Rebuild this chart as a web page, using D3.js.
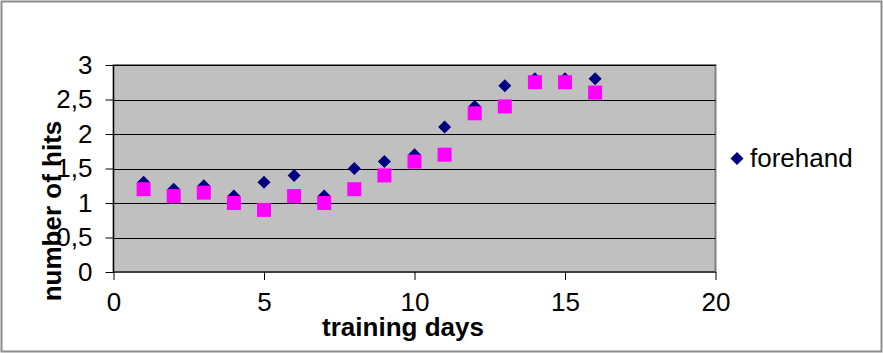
<!DOCTYPE html>
<html>
<head>
<meta charset="utf-8">
<script src="https://cdn.jsdelivr.net/npm/d3@7"></script>
<style>
  html, body { margin: 0; padding: 0; background: #fff; }
  svg { display: block; }
  text { font-family: "Liberation Sans", Arial, sans-serif; fill: #000; }
</style>
</head>
<body>
<svg id="chart" width="883" height="353"></svg>
<script>
// ---- data ----
const days = [1, 2, 3, 4, 5, 6, 7, 8, 9, 10, 11, 12, 13, 14, 15, 16];
const forehand = [1.3, 1.2, 1.25, 1.1, 1.3, 1.4, 1.1, 1.5, 1.6, 1.7, 2.1, 2.4, 2.7, 2.8, 2.8, 2.8];
const backhand = [1.2, 1.1, 1.15, 1.0, 0.9, 1.1, 1.0, 1.2, 1.4, 1.6, 1.7, 2.3, 2.4, 2.75, 2.75, 2.6];
const xTicks = [0, 5, 10, 15, 20];
const yTicks = [0, 0.5, 1, 1.5, 2, 2.5, 3];
const yTickLabels = ["0", "0,5", "1", "1,5", "2", "2,5", "3"];
const seriesNames = ["forehand"];

// ---- layout ----
const svg = d3.select("#chart");
const W = 883, H = 353;
const plot = { left: 113.5, right: 715.5, top: 65, bottom: 272 };

svg.append("rect").attr("x", 1.5).attr("y", 1.5).attr("width", W - 3).attr("height", H - 3)
  .attr("fill", "#fff").attr("stroke", "#8c8c8c").attr("stroke-width", 2);

const x = d3.scaleLinear().domain([0, 20]).range([plot.left, plot.right]);
const y = d3.scaleLinear().domain([0, 3]).range([plot.bottom, plot.top]);

// plot background
svg.append("rect").attr("x", plot.left).attr("y", plot.top)
  .attr("width", plot.right - plot.left).attr("height", plot.bottom - plot.top)
  .attr("fill", "#c0c0c0").attr("stroke", "#808080").attr("stroke-width", 2);

// gridlines
svg.append("g").selectAll("line").data(yTicks.filter(v => v > 0)).join("line")
  .attr("x1", plot.left).attr("x2", plot.right)
  .attr("y1", d => Math.round(y(d)) + 0.5).attr("y2", d => Math.round(y(d)) + 0.5)
  .attr("stroke", "#000").attr("stroke-width", 1);

// axes
const yAxis = d3.axisLeft(y).tickValues(yTicks).tickSize(8).tickPadding(13)
  .tickFormat((d, i) => yTickLabels[i]);
const gy = svg.append("g").attr("transform", `translate(${plot.left},0)`).call(yAxis);
const xAxis = d3.axisBottom(x).tickValues(xTicks).tickSize(8).tickPadding(13);
const gx = svg.append("g").attr("transform", `translate(0,${plot.bottom})`).call(xAxis);
[gx, gy].forEach(g => {
  g.select(".domain").remove();
  g.selectAll(".tick line").attr("stroke", "#000").attr("stroke-width", 1);
  g.selectAll(".tick text").attr("font-size", 26).attr("font-family", "Liberation Sans, Arial, sans-serif").attr("fill", "#000");
});
svg.append("line").attr("x1", plot.left).attr("x2", plot.left).attr("y1", plot.top).attr("y2", plot.bottom)
  .attr("stroke", "#000").attr("stroke-width", 1.2);
svg.append("line").attr("x1", plot.left).attr("x2", plot.right).attr("y1", plot.bottom).attr("y2", plot.bottom)
  .attr("stroke", "#000").attr("stroke-width", 1.2);

// markers
const diamond = 6.5;
svg.append("g").selectAll("path").data(days).join("path")
  .attr("d", (d, i) => {
    const cx = x(d), cy = y(forehand[i]);
    return `M${cx},${cy - diamond}L${cx + diamond},${cy}L${cx},${cy + diamond}L${cx - diamond},${cy}Z`;
  })
  .attr("fill", "#000080");
const sq = 14;
svg.append("g").selectAll("rect").data(days).join("rect")
  .attr("x", d => x(d) - sq / 2)
  .attr("y", (d, i) => y(backhand[i]) - sq / 2)
  .attr("width", sq).attr("height", sq)
  .attr("fill", "#ff00ff");

// axis titles
svg.append("text").attr("x", 403).attr("y", 336).attr("text-anchor", "middle")
  .attr("font-size", 26).attr("font-weight", "bold").text("training days");
svg.append("text").attr("transform", "translate(61,211) rotate(-90)").attr("text-anchor", "middle")
  .attr("font-size", 26).attr("font-weight", "bold").text("number of hits");

// legend
const lg = svg.append("g");
lg.selectAll("path").data(seriesNames).join("path")
  .attr("d", () => {
    const cx = 737, cy = 158.5, r = 6.5;
    return `M${cx},${cy - r}L${cx + r},${cy}L${cx},${cy + r}L${cx - r},${cy}Z`;
  }).attr("fill", "#000080");
lg.selectAll("text").data(seriesNames).join("text")
  .attr("x", 750).attr("y", 167).attr("font-size", 26).text(d => d);
</script>
</body>
</html>
